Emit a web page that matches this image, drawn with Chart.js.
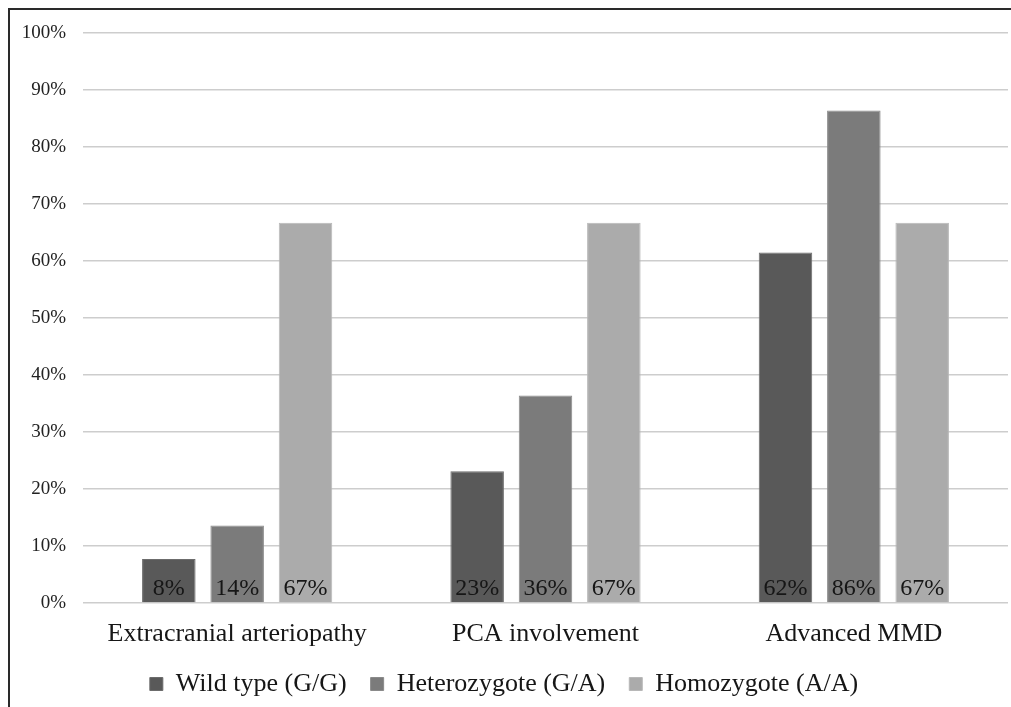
<!DOCTYPE html>
<html>
<head>
<meta charset="utf-8">
<script src="https://cdn.jsdelivr.net/npm/chart.js@4.4.1/dist/chart.umd.min.js"></script>
<style>
  html, body { margin: 0; padding: 0; background: #fff; }
  #wrap { position: relative; width: 1011px; height: 707px; overflow: hidden; }
  #frame { position: absolute; left: 8px; top: 8px; width: 1100px; height: 800px;
           border-left: 2px solid #2a2a2a; border-top: 2px solid #2a2a2a; pointer-events: none; }
  canvas { position: absolute; left: 0; top: 0; }
</style>
</head>
<body>
<div id="wrap">
  <canvas id="c" width="1011" height="707"></canvas>
  <div id="frame"></div>
</div>
<script>
// Share of patients (%) with each finding, by RNF213 genotype
const categories = ['Extracranial arteriopathy', 'PCA involvement', 'Advanced MMD'];
const seriesNames = ['Wild type (G/G)', 'Heterozygote (G/A)', 'Homozygote (A/A)'];
const wildType = [7.7, 23.1, 61.5];
const heterozygote = [13.6, 36.4, 86.4];
const homozygote = [66.7, 66.7, 66.7];
const yTicks = [0, 10, 20, 30, 40, 50, 60, 70, 80, 90, 100];

const SERIF = '"Liberation Serif", "Times New Roman", serif';
const fills = ['#595959', '#7b7b7b', '#ababab'];
const edges = ['#6c6c6c', '#8a8a8a', '#b8b8b8'];

// Writes each bar's rounded value just above the baseline, inside the bar
const valueLabels = {
  id: 'valueLabels',
  afterDatasetsDraw(chart) {
    const ctx = chart.ctx;
    const base = chart.scales.y.getPixelForValue(0);
    ctx.save();
    ctx.font = '24px ' + SERIF;
    ctx.fillStyle = '#161616';
    ctx.textAlign = 'center';
    ctx.textBaseline = 'alphabetic';
    chart.data.datasets.forEach((ds, i) => {
      chart.getDatasetMeta(i).data.forEach((bar, j) => {
        ctx.fillText(Math.round(ds.data[j]) + '%', bar.x, base - 8);
      });
    });
    ctx.restore();
  }
};

new Chart(document.getElementById('c'), {
  type: 'bar',
  data: {
    labels: categories,
    datasets: [wildType, heterozygote, homozygote].map((vals, i) => ({
      label: seriesNames[i],
      data: vals,
      backgroundColor: fills[i],
      borderColor: edges[i],
      borderWidth: 1,
      categoryPercentage: 0.665,
      barPercentage: 0.783
    }))
  },
  options: {
    responsive: false,
    animation: false,
    layout: { padding: { top: 33, right: 3, left: 0, bottom: 0 } },
    plugins: {
      tooltip: { enabled: false },
      legend: {
        position: 'bottom',
        labels: {
          boxWidth: 13,
          boxHeight: 13,
          padding: 24,
          color: '#161616',
          font: { family: SERIF, size: 26 }
        }
      }
    },
    scales: {
      x: {
        grid: { display: false },
        border: { display: false },
        ticks: { color: '#161616', padding: 8, font: { family: SERIF, size: 26 } },
        afterFit(scale) { scale.height = 44; }
      },
      y: {
        min: 0,
        max: 100,
        afterBuildTicks(scale) { scale.ticks = yTicks.map(v => ({ value: v })); },
        ticks: {
          color: '#222',
          padding: 17,
          font: { family: SERIF, size: 19 },
          callback: v => v + '%'
        },
        grid: { color: '#cdcdcd', lineWidth: 1.6, drawTicks: false },
        border: { display: false },
        afterFit(scale) { scale.width = 83; }
      }
    }
  },
  plugins: [valueLabels]
});
</script>
</body>
</html>
